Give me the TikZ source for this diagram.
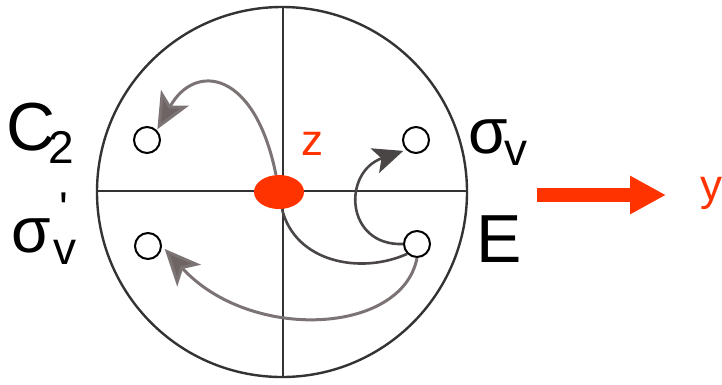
\documentclass[tikz,border=0pt]{standalone}
\usepackage{fontspec}
\setmainfont{Liberation Sans}
\newfontfamily\rawsans{Liberation Sans}[Ligatures=TeXOff]
\usetikzlibrary{arrows.meta,shapes.geometric}
\definecolor{zred}{HTML}{FF3300}
\definecolor{arrgray}{HTML}{7C7474}
\definecolor{headgray}{HTML}{6E6464}
\definecolor{darkgray2}{HTML}{4A4646}
\definecolor{linegray}{HTML}{333333}
\newcommand{\subsz}{\fontsize{46}{46}\selectfont}
\begin{document}
\begin{tikzpicture}[x=1pt,y=-1pt,
  lbl/.style={anchor=base west,inner sep=0pt,outer sep=0pt},
  big/.style={font=\fontsize{68}{68}\selectfont},
  sig/.style={font=\fontsize{64}{64}\selectfont},
  redtxt/.style={text=zred,font=\fontsize{44}{44}\selectfont},
  dot/.style={circle,draw=black,line width=2pt,minimum size=26pt,inner sep=0pt},
  garrow/.style={draw=arrgray,line width=3pt,-{Stealth[length=36pt,width=32pt,inset=9pt,fill=headgray]}},
  darrow/.style={draw=darkgray2,line width=2.6pt,-{Stealth[length=30pt,width=26pt,inset=7pt]}},
  dline/.style={draw=darkgray2,line width=2.6pt}]
\useasboundingbox (0,0) rectangle (722,384);
% outer circle and axes
\draw[linegray,line width=2.4pt] (282,192) circle (185pt);
\draw[linegray,line width=2pt] (97,191) -- (467,191);
\draw[linegray,line width=2pt] (283,7) -- (283,377);
% points
\node[dot] (c2) at (147,140) {};
\node[dot] (sv) at (416,140) {};
\node[dot] (svp) at (148,246) {};
\node[dot] (e) at (417,244) {};
% center red ellipse
\node[ellipse,fill=zred,minimum width=50pt,minimum height=34pt,inner sep=0pt] (o) at (279,192) {};
% arrows
\draw[garrow,shorten >=1pt] (o.100) .. controls (255,70) and (195,62) .. (c2.north east);
\draw[darrow,shorten >=3pt] (e.west) .. controls (345,246) and (342,172) .. (sv.south west);
\draw[dline] (o.-80) .. controls (295,262) and (360,275) .. (e.south west);
\draw[garrow,shorten >=4pt] (e.south) .. controls (402,335) and (250,342) .. (svp.east);
% labels
\node[lbl,big] (lc) at (6,150) {C\kern-7pt\raisebox{-13pt}{\subsz 2}};
\node[lbl,sig] (lsv) at (468,153) {σ\kern-3pt\raisebox{-12pt}{\subsz v}};
\node[lbl,sig] (lsvp) at (12,252) {σ\kern2pt\raisebox{-12pt}{\subsz\rlap{\kern6pt\raisebox{40pt}{\rawsans '}}v}};
\node[lbl,big] (le) at (476,262) {E};
\node[lbl,redtxt] (lz) at (301,155) {z};
\node[lbl,redtxt] (ly) at (700,200) {y};
% y-axis arrow
\coordinate (ya) at (537,195);
\coordinate (yb) at (666,195);
\draw[zred,line width=14pt,-{Triangle[length=36pt,width=36pt]}] (ya) -- (yb);
\end{tikzpicture}
\end{document}
